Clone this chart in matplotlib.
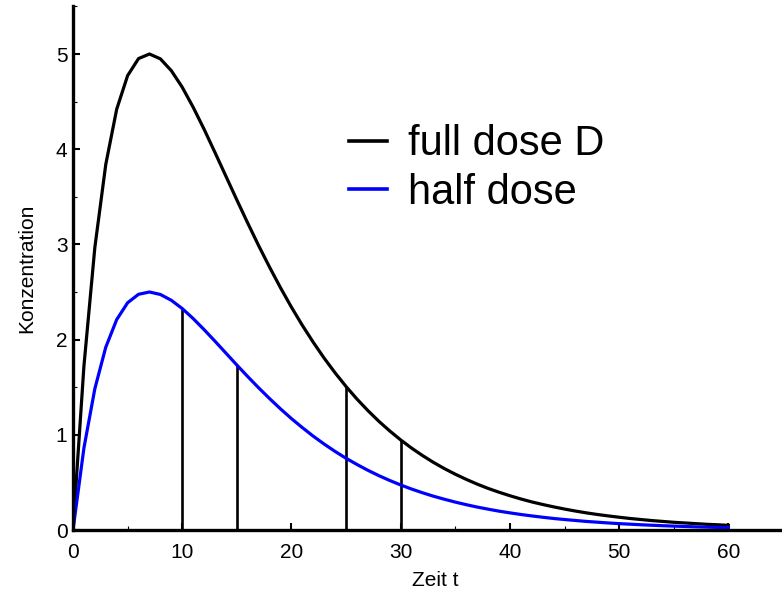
import matplotlib
matplotlib.use("Agg")
import matplotlib.pyplot as plt
from matplotlib.ticker import MultipleLocator

plt.rcParams['font.family'] = ['Liberation Sans', 'DejaVu Sans']

# time axis (hours)
time = list(range(0, 61))

full_dose = [0.000, 1.722, 2.968, 3.840, 4.420, 4.773, 4.952, 5.000, 4.949, 4.825,
             4.651, 4.441, 4.210, 3.965, 3.716, 3.467, 3.223, 2.986, 2.760, 2.544,
             2.340, 2.149, 1.971, 1.804, 1.650, 1.507, 1.375, 1.254, 1.142, 1.040,
             0.946, 0.860, 0.782, 0.710, 0.645, 0.586, 0.532, 0.482, 0.437, 0.397,
             0.360, 0.326, 0.295, 0.268, 0.243, 0.220, 0.199, 0.180, 0.163, 0.148,
             0.134, 0.121, 0.110, 0.099, 0.090, 0.081, 0.074, 0.067, 0.060, 0.055,
             0.049]

half_dose = [0.000, 0.861, 1.484, 1.920, 2.210, 2.387, 2.476, 2.500, 2.474, 2.413,
             2.326, 2.221, 2.105, 1.983, 1.858, 1.733, 1.611, 1.493, 1.380, 1.272,
             1.170, 1.075, 0.985, 0.902, 0.825, 0.753, 0.688, 0.627, 0.571, 0.520,
             0.473, 0.430, 0.391, 0.355, 0.323, 0.293, 0.266, 0.241, 0.219, 0.198,
             0.180, 0.163, 0.148, 0.134, 0.121, 0.110, 0.100, 0.090, 0.082, 0.074,
             0.067, 0.061, 0.055, 0.050, 0.045, 0.041, 0.037, 0.033, 0.030, 0.027,
             0.025]

# vertical markers: time and which curve they reach
marker_times = [10, 15, 25, 30]
marker_series = ['half', 'half', 'full', 'full']

series_labels = ['full dose D', 'half dose']
x_label = 'Zeit t'
y_label = 'Konzentration'

fig = plt.figure(figsize=(7.82, 5.92), dpi=100)
ax = fig.add_axes([73/782, 62/592, 710/782, 523.6/592])

ax.plot(time, full_dose, color='black', lw=2.3, label=series_labels[0],
        solid_joinstyle='round', zorder=3)
ax.plot(time, half_dose, color='#0000ff', lw=2.3, label=series_labels[1],
        solid_joinstyle='round', zorder=3)

lookup = {'full': full_dose, 'half': half_dose}
for t, s in zip(marker_times, marker_series):
    ax.vlines(t, 0, lookup[s][time.index(t)], color='black', lw=1.9, zorder=2)

ax.set_xlim(0, 65)
ax.set_ylim(0, 5.5)

for side in ['top', 'right']:
    ax.spines[side].set_visible(False)
for side in ['left', 'bottom']:
    ax.spines[side].set_linewidth(2.4)
    ax.spines[side].set_zorder(4)

ax.xaxis.set_major_locator(MultipleLocator(10))
ax.xaxis.set_minor_locator(MultipleLocator(5))
ax.yaxis.set_major_locator(MultipleLocator(1))
ax.yaxis.set_minor_locator(MultipleLocator(0.5))
ax.tick_params(which='major', direction='in', length=5, width=1.5, labelsize=15)
ax.tick_params(which='minor', direction='in', length=3, width=0.8)
ax.tick_params(axis='x', which='major', pad=9)
ax.tick_params(axis='y', which='major', pad=4)

ax.set_xlabel(x_label, fontsize=15)
ax.xaxis.set_label_coords(0.51, -0.078)
ax.set_ylabel(y_label, fontsize=15, labelpad=14)

leg = ax.legend(loc='upper left', bbox_to_anchor=(0.389, 0.775), frameon=False,
                fontsize=30, handlelength=0.9, handletextpad=0.5,
                labelspacing=0.2, borderpad=0, borderaxespad=0)
for h in leg.get_lines():
    h.set_linewidth(2.6)

fig.savefig('out.png', dpi=100)
